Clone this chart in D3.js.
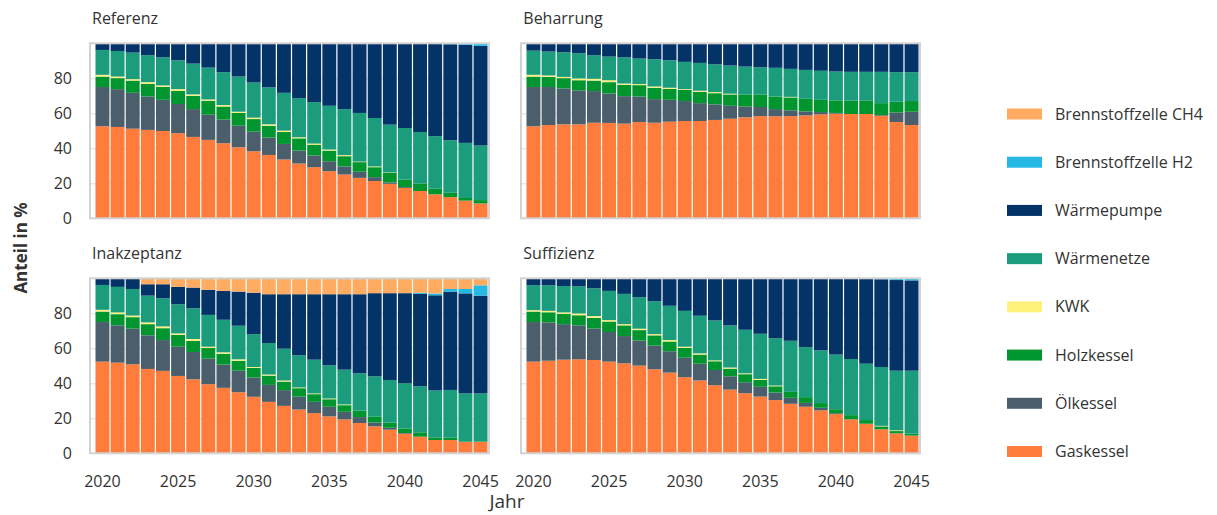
<!DOCTYPE html>
<html>
<head>
<meta charset="utf-8">
<script src="https://cdn.jsdelivr.net/npm/d3@7"></script>
<style>
  body { margin: 0; background: #fff; }
  svg { display: block; }
  text { font-family: "Open Sans", "Noto Sans", sans-serif; fill: #333; }
</style>
</head>
<body>
<svg id="chart" width="1217" height="515"></svg>
<script>
// Jahre (x-Achse)
const years = [2020, 2021, 2022, 2023, 2024, 2025, 2026, 2027, 2028, 2029, 2030, 2031, 2032,
               2033, 2034, 2035, 2036, 2037, 2038, 2039, 2040, 2041, 2042, 2043, 2044, 2045];
const xTickYears = [2020, 2025, 2030, 2035, 2040, 2045];
const yTickValues = [0, 20, 40, 60, 80];

// Technologien, Reihenfolge von unten nach oben im Stapel
const technologies = ["Gaskessel", "Ölkessel", "Holzkessel", "KWK", "Wärmenetze",
                      "Wärmepumpe", "Brennstoffzelle H2", "Brennstoffzelle CH4"];
const techColors = ["#ff7c3c", "#4a5e6b", "#00952f", "#fff07c", "#1b9c7c",
                    "#033367", "#26b8e4", "#ffab62"];

// Szenario Referenz (Anteile in %)
const referenzGas   = [52.6, 52.2, 51.2, 50.5, 49.9, 48.6, 46.5, 44.8, 42.9, 40.6, 38.3, 36.2, 33.6, 31.3, 29.2, 26.9, 25.0, 23.1, 21.3, 19.7, 17.3, 15.6, 13.7, 12.1, 10.1, 8.5];
const referenzOel   = [22.4, 21.6, 20.5, 19.1, 17.8, 16.7, 15.9, 14.4, 13.5, 12.3, 11.2, 9.9, 8.9, 7.4, 6.7, 5.7, 4.6, 3.5, 2.2, 0.8, 0.5, 0, 0, 0, 0, 0];
const referenzHolz  = [6.0, 6.3, 7.0, 7.3, 7.4, 7.6, 7.6, 8.0, 7.5, 7.3, 7.2, 6.8, 6.8, 7.0, 6.2, 6.1, 5.9, 5.5, 5.7, 5.5, 4.4, 4.3, 3.4, 2.5, 1.5, 1.9];
const referenzKWK   = [1.0, 0.9, 0.8, 0.9, 0.8, 0.9, 0.8, 0.7, 0.8, 0.7, 0.8, 0.8, 0.8, 0.6, 0.6, 0.6, 0.6, 0.3, 0.4, 0.2, 0, 0, 0, 0, 0, 0];
const referenzNetz  = [14.2, 14.6, 15.2, 15.4, 16.1, 16.5, 17.6, 18.2, 18.8, 20.1, 20.1, 21.1, 21.6, 22.4, 23.7, 25.0, 26.3, 27.8, 27.7, 27.3, 29.4, 29.4, 29.8, 30.0, 31.5, 31.2];
const referenzWP    = [3.8, 4.4, 5.3, 6.8, 8.0, 9.7, 11.6, 13.9, 16.5, 19.0, 22.4, 25.2, 28.3, 31.3, 33.6, 35.7, 37.6, 39.8, 42.7, 46.5, 48.4, 50.7, 53.1, 54.9, 56.1, 56.9];
const referenzH2    = [0, 0, 0, 0, 0, 0, 0, 0, 0, 0, 0, 0, 0, 0, 0, 0, 0, 0, 0, 0, 0, 0, 0, 0.5, 0.8, 1.5];
const referenzCH4   = [0, 0, 0, 0, 0, 0, 0, 0, 0, 0, 0, 0, 0, 0, 0, 0, 0, 0, 0, 0, 0, 0, 0, 0, 0, 0];

// Szenario Beharrung
const beharrungGas  = [52.6, 53.3, 53.7, 53.7, 54.6, 54.5, 54.1, 55.0, 54.6, 55.2, 55.6, 55.6, 56.2, 56.9, 57.7, 58.4, 58.3, 58.4, 58.8, 59.4, 59.8, 59.6, 59.6, 58.6, 55.0, 53.3];
const beharrungOel  = [22.4, 21.7, 20.5, 19.4, 18.1, 16.8, 15.7, 14.6, 13.5, 12.5, 11.4, 10.2, 8.9, 7.4, 6.2, 5.2, 4.1, 3.3, 2.3, 1.3, 0.4, 0, 0, 0.4, 5.5, 7.6];
const beharrungHolz = [6.0, 5.8, 5.9, 5.8, 6.0, 6.5, 6.5, 6.5, 6.5, 6.3, 6.4, 6.5, 6.4, 6.5, 6.9, 7.2, 7.2, 7.4, 7.2, 7.0, 7.2, 7.6, 7.8, 6.8, 6.1, 6.1];
const beharrungKWK  = [1.0, 0.8, 0.7, 1.0, 1.0, 1.1, 0.7, 0.6, 0.7, 0.6, 0.4, 0.6, 0.6, 0.4, 0, 0, 0, 0.3, 0, 0, 0, 0, 0, 0, 0, 0];
const beharrungNetz = [13.8, 13.7, 14.1, 14.4, 13.5, 13.5, 15.0, 14.6, 15.6, 15.7, 15.6, 15.9, 15.9, 16.1, 15.9, 15.5, 16.4, 16.0, 16.5, 16.6, 16.5, 16.5, 16.3, 17.9, 16.9, 16.5];
const beharrungWP   = [4.2, 4.7, 5.1, 5.7, 6.8, 7.6, 8.0, 8.7, 9.1, 9.7, 10.6, 11.2, 12.0, 12.7, 13.3, 13.7, 14.0, 14.6, 15.2, 15.7, 16.1, 16.3, 16.3, 16.3, 16.5, 16.5];
const beharrungH2   = [0, 0, 0, 0, 0, 0, 0, 0, 0, 0, 0, 0, 0, 0, 0, 0, 0, 0, 0, 0, 0, 0, 0, 0, 0, 0];
const beharrungCH4  = [0, 0, 0, 0, 0, 0, 0, 0, 0, 0, 0, 0, 0, 0, 0, 0, 0, 0, 0, 0, 0, 0, 0, 0, 0, 0];

// Szenario Inakzeptanz
const inakzeptanzGas  = [52.4, 51.8, 50.9, 48.2, 47.1, 44.2, 42.3, 39.5, 37.4, 34.9, 32.3, 29.4, 27.1, 25.0, 23.0, 21.1, 19.4, 17.3, 15.4, 13.5, 11.2, 9.5, 7.6, 7.6, 6.5, 6.5];
const inakzeptanzOel  = [22.6, 21.3, 20.3, 19.2, 17.6, 16.7, 15.6, 14.6, 13.3, 12.3, 11.0, 9.7, 9.0, 7.4, 6.4, 5.5, 4.3, 3.4, 2.2, 1.1, 0.4, 0, 0, 0, 0, 0];
const inakzeptanzHolz = [6.0, 6.4, 6.6, 6.4, 6.8, 6.8, 6.4, 6.1, 6.2, 5.7, 5.5, 5.3, 4.9, 4.8, 4.4, 4.3, 3.8, 3.8, 3.5, 3.0, 2.6, 2.5, 1.5, 1.3, 0.1, 0.3];
const inakzeptanzKWK  = [1.0, 1.0, 0.9, 1.0, 1.0, 0.8, 1.0, 0.7, 0.8, 0.8, 0.5, 0.6, 0.6, 0.4, 0.4, 0.4, 0.4, 0, 0, 0, 0, 0, 0, 0, 0, 0];
const inakzeptanzNetz = [14.2, 14.6, 15.2, 15.3, 16.1, 16.7, 17.6, 18.2, 18.6, 19.2, 18.8, 18.0, 18.2, 18.4, 19.3, 19.0, 19.9, 21.2, 22.9, 24.3, 25.8, 26.3, 26.8, 27.3, 27.6, 27.4];
const inakzeptanzWP   = [3.8, 4.9, 6.1, 6.5, 8.0, 9.9, 11.8, 14.3, 16.5, 19.5, 23.7, 27.9, 31.1, 34.9, 37.4, 40.6, 43.1, 45.2, 47.5, 49.6, 51.5, 52.8, 54.4, 56.2, 57.2, 55.9];
const inakzeptanzH2   = [0, 0, 0, 0, 0, 0, 0, 0, 0, 0, 0, 0, 0, 0, 0, 0, 0, 0, 0, 0, 0, 0.6, 1.0, 1.5, 2.5, 5.9];
const inakzeptanzCH4  = [0, 0, 0, 3.4, 3.4, 4.9, 5.3, 6.6, 7.2, 7.6, 8.2, 9.1, 9.1, 9.1, 9.1, 9.1, 9.1, 9.1, 8.5, 8.5, 8.5, 8.3, 8.7, 6.1, 6.1, 4.0];

// Szenario Suffizienz
const suffizienzGas  = [52.4, 52.9, 53.5, 53.7, 53.3, 52.4, 51.4, 50.1, 48.0, 46.1, 43.5, 41.6, 38.9, 36.4, 34.3, 32.4, 30.4, 28.3, 26.6, 24.5, 22.4, 19.4, 16.9, 13.7, 11.4, 10.1];
const suffizienzOel  = [22.6, 21.9, 20.3, 19.4, 18.0, 16.9, 15.6, 14.4, 13.5, 12.2, 11.1, 9.6, 8.7, 7.6, 6.3, 5.6, 4.3, 3.4, 2.2, 1.5, 0.5, 0, 0, 0, 0, 0];
const suffizienzHolz = [6.0, 5.8, 5.9, 5.8, 6.1, 6.0, 6.1, 5.9, 5.9, 5.6, 5.6, 5.2, 5.0, 4.4, 4.6, 3.9, 3.6, 3.4, 3.3, 2.7, 2.3, 2.4, 2.1, 1.7, 1.3, 1.1];
const suffizienzKWK  = [0.8, 0.8, 0.8, 1.0, 1.0, 0.8, 0.7, 0.8, 0.7, 0.8, 0.7, 0.7, 0.5, 0.6, 0.5, 0.6, 0.4, 0, 0, 0, 0, 0, 0, 0.3, 0.4, 0];
const suffizienzNetz = [14.2, 14.6, 15.1, 15.5, 15.9, 16.7, 17.3, 18.0, 18.8, 19.6, 20.5, 21.5, 22.8, 24.1, 24.9, 25.8, 27.1, 29.2, 28.6, 30.1, 31.2, 32.1, 32.2, 33.6, 34.1, 36.0];
const suffizienzWP   = [4.0, 4.0, 4.4, 4.6, 5.7, 7.2, 8.9, 10.8, 13.1, 15.7, 18.6, 21.4, 24.1, 26.9, 29.4, 31.7, 34.2, 35.7, 39.3, 41.2, 43.6, 46.1, 48.8, 50.2, 51.8, 51.6];
const suffizienzH2   = [0, 0, 0, 0, 0, 0, 0, 0, 0, 0, 0, 0, 0, 0, 0, 0, 0, 0, 0, 0, 0, 0, 0, 0.5, 1.0, 1.2];
const suffizienzCH4  = [0, 0, 0, 0, 0, 0, 0, 0, 0, 0, 0, 0, 0, 0, 0, 0, 0, 0, 0, 0, 0, 0, 0, 0, 0, 0];

const scenarios = [
  { title: "Referenz",    series: [referenzGas, referenzOel, referenzHolz, referenzKWK, referenzNetz, referenzWP, referenzH2, referenzCH4] },
  { title: "Beharrung",   series: [beharrungGas, beharrungOel, beharrungHolz, beharrungKWK, beharrungNetz, beharrungWP, beharrungH2, beharrungCH4] },
  { title: "Inakzeptanz", series: [inakzeptanzGas, inakzeptanzOel, inakzeptanzHolz, inakzeptanzKWK, inakzeptanzNetz, inakzeptanzWP, inakzeptanzH2, inakzeptanzCH4] },
  { title: "Suffizienz",  series: [suffizienzGas, suffizienzOel, suffizienzHolz, suffizienzKWK, suffizienzNetz, suffizienzWP, suffizienzH2, suffizienzCH4] }
];

// Layout
const svg = d3.select("#chart");
const panelW = 399, panelH = 175;
const panelPos = [
  { x: 90,  y: 43.3,  row: 0, col: 0 },
  { x: 521, y: 43.3,  row: 0, col: 1 },
  { x: 90,  y: 278.3, row: 1, col: 0 },
  { x: 521, y: 278.3, row: 1, col: 1 }
];

const color = d3.scaleOrdinal().domain(technologies).range(techColors);
const y = d3.scaleLinear().domain([0, 100]).range([panelH, 0]);
const x = d3.scaleBand().domain(years).range([5.5, panelW - 1.5]).paddingInner(0.08).paddingOuter(0);

const stack = d3.stack().keys(technologies);

scenarios.forEach((sc, i) => {
  const p = panelPos[i];
  const rows = years.map((yr, j) => {
    const r = { year: yr };
    technologies.forEach((t, k) => { r[t] = sc.series[k][j]; });
    return r;
  });
  const layers = stack(rows);

  const g = svg.append("g").attr("transform", `translate(${p.x},${p.y})`);

  // Titel
  g.append("text")
    .attr("x", p.col === 0 ? 2 : 2.3)
    .attr("y", -19.3)
    .attr("font-size", 16)
    .text(sc.title);

  // Hilfslinien
  g.append("g")
    .call(d3.axisLeft(y).tickValues([20, 40, 60, 80]).tickSize(-panelW).tickFormat(""))
    .call(a => a.select(".domain").remove())
    .selectAll("line").attr("stroke", "#dedede").attr("stroke-width", 1);

  // Gestapelte Balken
  g.append("g").selectAll("g")
    .data(layers)
    .join("g")
      .attr("fill", d => color(d.key))
    .selectAll("rect")
    .data(d => d)
    .join("rect")
      .attr("x", d => x(d.data.year))
      .attr("width", x.bandwidth())
      .attr("y", d => y(d[1]))
      .attr("height", d => Math.max(0, y(d[0]) - y(d[1])));

  // Rahmen
  g.append("rect")
    .attr("width", panelW).attr("height", panelH)
    .attr("fill", "none").attr("stroke", "#d2d2d2").attr("stroke-width", 2);

  // y-Achse nur links
  if (p.col === 0) {
    const ya = g.append("g")
      .call(d3.axisLeft(y).tickValues(yTickValues).tickSize(0).tickPadding(18));
    ya.select(".domain").remove();
    ya.selectAll("text").attr("font-size", 16).attr("fill", "#333")
      .attr("font-family", '"Open Sans", sans-serif');
  }

  // x-Achse nur unten
  if (p.row === 1) {
    const xa = g.append("g")
      .attr("transform", `translate(0,${panelH})`)
      .call(d3.axisBottom(x).tickValues(xTickYears).tickSize(0).tickPadding(22));
    xa.select(".domain").remove();
    xa.selectAll("text").attr("font-size", 16).attr("fill", "#333")
      .attr("font-family", '"Open Sans", sans-serif');
  }
});

// Achsentitel
svg.append("text")
  .attr("transform", "translate(27,248) rotate(-90)")
  .attr("text-anchor", "middle")
  .attr("font-size", 17)
  .attr("font-weight", "bold")
  .text("Anteil in %");

svg.append("text")
  .attr("x", 507).attr("y", 508)
  .attr("text-anchor", "middle")
  .attr("font-size", 19)
  .text("Jahr");

// Legende (oberste Schicht zuerst)
const legendItems = technologies.slice().reverse();
const ly = d3.scalePoint().domain(legendItems).range([114, 451.5]);
const legend = svg.append("g");
legend.selectAll("rect")
  .data(legendItems)
  .join("rect")
    .attr("x", 1007).attr("y", d => ly(d) - 5.5)
    .attr("width", 35).attr("height", 11)
    .attr("fill", d => color(d));
legend.selectAll("text")
  .data(legendItems)
  .join("text")
    .attr("x", 1055).attr("y", d => ly(d))
    .attr("dy", "0.35em")
    .attr("font-size", 16)
    .text(d => d);
</script>
</body>
</html>
